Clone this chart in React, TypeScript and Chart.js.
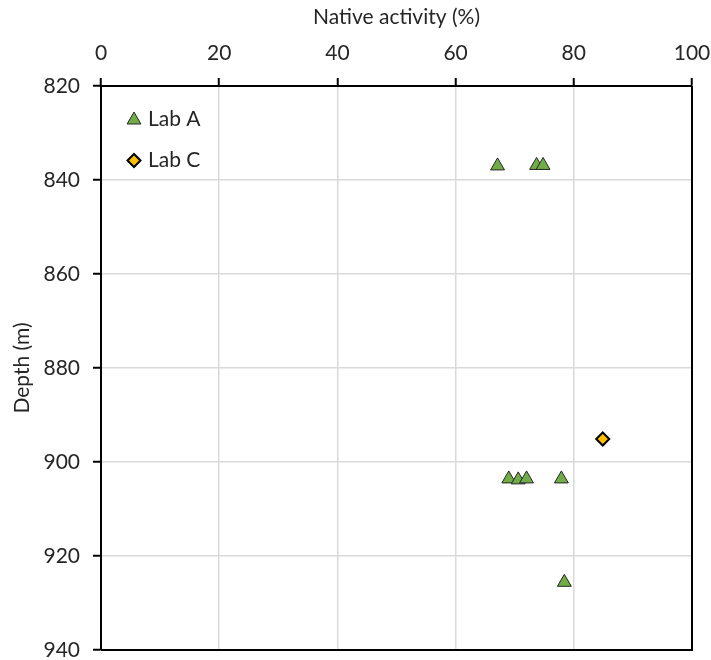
import React, { useEffect, useRef } from 'react';
import { Chart, registerables } from 'chart.js';
import { drawPoint } from 'chart.js/helpers';

Chart.register(...registerables);

const xTitle = 'Native activity (%)';
const yTitle = 'Depth (m)';
const labALabel = 'Lab A';
const labCLabel = 'Lab C';
const labAActivity = [67.1, 73.7, 74.8, 69.0, 70.6, 72.0, 77.9, 78.4];
const labADepth = [837.0, 836.9, 836.9, 903.6, 903.8, 903.6, 903.6, 925.6];
const labCActivity = [84.9];
const labCDepth = [895.1];
const xTicks = [0, 20, 40, 60, 80, 100];
const yTicks = [820, 840, 860, 880, 900, 920, 940];

const FONT = 'Lato, "Open Sans", sans-serif';
const TEXT = '#262626';
const GREEN = '#70AD47';
const GOLD = '#FFC000';

const triStyle = { pointStyle: 'triangle', radius: 8, borderWidth: 1, rotation: 0 };
const diaStyle = { pointStyle: 'rectRot', radius: 6.5, borderWidth: 2, rotation: 0 };

const frameLegendPlugin = {
  id: 'frameLegend',
  beforeDatasetsDraw(chart: any) {
    const { ctx, chartArea } = chart;
    ctx.save();
    ctx.strokeStyle = '#000';
    ctx.lineWidth = 2;
    ctx.beginPath();
    ctx.moveTo(chartArea.right, chartArea.top);
    ctx.lineTo(chartArea.right, chartArea.bottom);
    ctx.lineTo(chartArea.left, chartArea.bottom);
    ctx.stroke();
    ctx.restore();
  },
  afterDraw(chart: any) {
    const { ctx, chartArea } = chart;
    const mx = chartArea.left + 33;
    const tx = chartArea.left + 47;
    const rows = [
      { style: triStyle, fill: GREEN, stroke: '#262626', label: labALabel, cy: chartArea.top + 34, base: chartArea.top + 40 },
      { style: diaStyle, fill: GOLD, stroke: '#000', label: labCLabel, cy: chartArea.top + 74.5, base: chartArea.top + 81 },
    ];
    ctx.save();
    for (const r of rows) {
      ctx.fillStyle = r.fill;
      ctx.strokeStyle = r.stroke;
      ctx.lineWidth = r.style.borderWidth;
      drawPoint(ctx, r.style as any, mx, r.cy);
      ctx.fillStyle = TEXT;
      ctx.font = `21px ${FONT}`;
      ctx.textAlign = 'left';
      ctx.textBaseline = 'alphabetic';
      ctx.fillText(r.label, tx, r.base);
    }
    ctx.restore();
  },
};

export default function App() {
  const ref = useRef<HTMLCanvasElement>(null);
  useEffect(() => {
    if (!ref.current) return;
    const chart = new Chart(ref.current, {
      type: 'scatter',
      data: {
        datasets: [
          {
            label: labALabel,
            data: labAActivity.map((x, i) => ({ x, y: labADepth[i] })),
            pointStyle: 'triangle',
            pointRadius: triStyle.radius,
            pointBackgroundColor: GREEN,
            pointBorderColor: '#262626',
            pointBorderWidth: 1,
            showLine: false,
          },
          {
            label: labCLabel,
            data: labCActivity.map((x, i) => ({ x, y: labCDepth[i] })),
            pointStyle: 'rectRot',
            pointRadius: diaStyle.radius,
            pointBackgroundColor: GOLD,
            pointBorderColor: '#000',
            pointBorderWidth: 2,
            showLine: false,
          },
        ],
      },
      options: {
        responsive: false,
        animation: false,
        devicePixelRatio: 1,
        layout: { padding: { top: 0, left: 0, right: 19, bottom: 10 } },
        plugins: { legend: { display: false }, tooltip: { enabled: false } },
        scales: {
          x: {
            type: 'linear',
            position: 'top',
            min: 0,
            max: 100,
            afterBuildTicks: (s: any) => { s.ticks = xTicks.map((v) => ({ value: v })); },
            afterFit: (s: any) => { s.height = 86; s.paddingLeft = 0; s.paddingRight = 0; },
            grid: { color: '#d9d9d9', lineWidth: 1.5, tickColor: '#000', tickLength: 8, tickWidth: 2 },
            border: { color: '#000', width: 2 },
            ticks: { color: TEXT, font: { family: FONT, size: 21 }, padding: 12 },
            title: { display: true, text: xTitle, color: TEXT, font: { family: FONT, size: 21 }, padding: { top: 5, bottom: 4 } },
          },
          y: {
            type: 'linear',
            reverse: true,
            min: 820,
            max: 940,
            afterBuildTicks: (s: any) => { s.ticks = yTicks.map((v) => ({ value: v })); },
            afterFit: (s: any) => { s.width = 101; s.paddingTop = 0; s.paddingBottom = 0; },
            grid: { color: '#d9d9d9', lineWidth: 1.5, tickColor: '#000', tickLength: 8, tickWidth: 2 },
            border: { color: '#000', width: 2 },
            ticks: { color: TEXT, font: { family: FONT, size: 21 }, padding: 13 },
            title: { display: true, text: yTitle, color: TEXT, font: { family: FONT, size: 21 }, padding: { top: 10, bottom: 4 } },
          },
        },
      },
      plugins: [frameLegendPlugin],
    } as any);
    return () => chart.destroy();
  }, []);
  return (
    <div style={{ position: 'fixed', left: 0, top: 0, width: 711, height: 660, background: '#fff' }}>
      <canvas ref={ref} width={711} height={660} style={{ display: 'block' }} />
    </div>
  );
}
